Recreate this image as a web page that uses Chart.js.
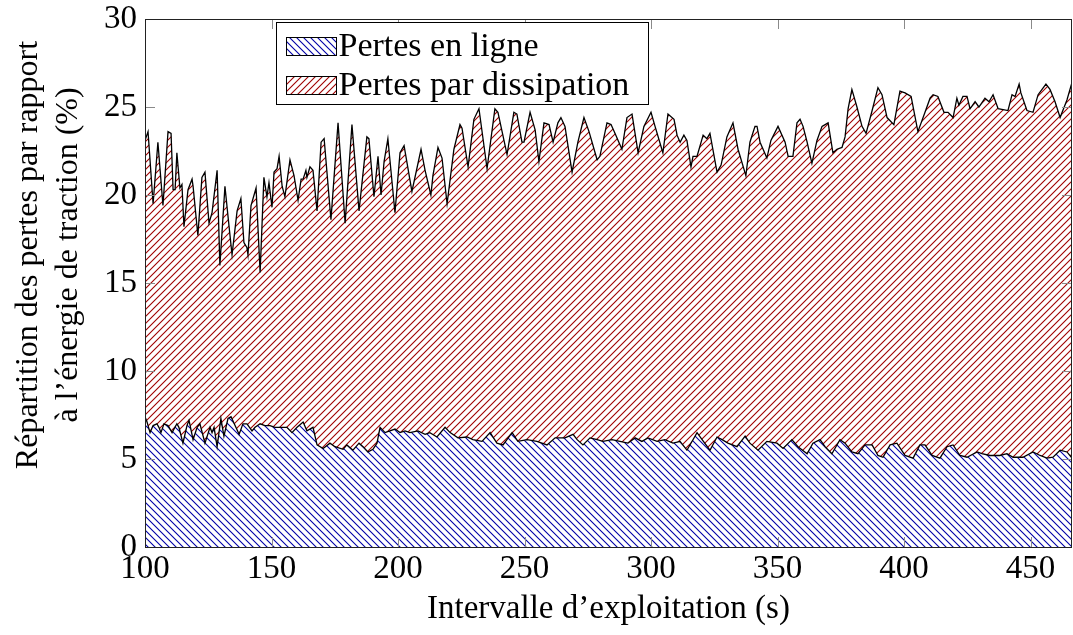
<!DOCTYPE html>
<html>
<head>
<meta charset="utf-8">
<script src="https://cdn.jsdelivr.net/npm/chart.js@4.4.0/dist/chart.umd.min.js"></script>
<style>
  html, body { margin: 0; padding: 0; background: #fff; }
  #wrap { width: 1073px; height: 635px; }
</style>
</head>
<body>
<div id="wrap"><canvas id="pertesChart"></canvas></div>
<script>
// valeurs (s, %)
var xLigne = [
  100.0,100.8,102.0,103.2,104.7,105.5,106.3,107.5,109.1,110.7,
  112.6,113.4,115.0,116.6,117.4,119.0,120.6,121.7,123.7,125.7,
  126.5,127.3,128.5,130.0,131.2,132.8,134.0,135.6,137.2,138.7,
  140.3,142.3,143.5,145.5,147.4,149.4,151.4,153.4,156.1,158.1,
  160.1,162.5,164.0,166.4,168.0,170.4,173.1,175.1,178.3,179.8,
  182.2,184.6,186.2,188.1,190.1,191.7,192.9,194.9,196.8,198.8,
  200.8,202.8,204.7,207.9,210.7,212.6,215.4,218.6,220.6,223.7,
  227.3,229.6,233.2,236.4,239.1,241.5,245.1,247.4,251.0,254.9,
  258.9,262.1,266.0,269.2,270.8,273.1,275.9,278.7,281.0,284.6,
  287.7,290.9,293.7,296.4,298.8,302.4,305.5,308.7,311.5,314.2,
  318.2,320.2,323.3,326.1,328.1,330.4,334.0,337.2,339.1,342.3,
  345.8,349.8,352.2,355.7,358.1,361.7,364.0,366.8,368.8,371.5,
  374.7,376.7,379.4,381.8,384.6,387.4,389.7,391.7,394.5,397.2,
  400.4,403.6,406.3,408.3,411.1,414.2,417.0,419.4,422.1,424.9,
  428.9,430.8,434.0,437.9,440.7,443.1,447.0,451.0,453.8,456.5,
  458.9,461.7,464.4,466.4
];
var pertesLigne = [
  7.4,7.1,6.5,6.9,7.0,6.8,6.5,7.0,6.9,6.5,
  7.0,6.8,5.9,6.9,7.2,6.1,6.8,7.0,5.9,6.8,
  6.5,6.8,5.7,7.3,6.3,7.3,7.4,6.9,6.4,7.0,
  7.0,6.6,6.8,7.0,6.9,6.9,6.8,6.8,6.8,6.5,
  6.8,7.1,6.6,6.8,5.8,5.6,5.9,5.7,5.55,5.8,
  5.5,5.9,5.7,5.4,5.55,5.9,6.8,6.5,6.6,6.7,
  6.5,6.6,6.5,6.6,6.4,6.5,6.25,6.8,6.5,6.2,
  6.25,6.1,6.0,6.5,5.9,5.8,6.5,6.0,6.1,6.0,
  5.8,6.2,6.2,6.4,6.1,5.8,6.2,6.1,6.0,6.1,
  6.0,5.9,6.2,6.0,6.2,6.0,6.1,5.9,6.0,5.5,
  6.5,6.1,5.5,6.25,6.1,5.9,5.7,6.3,5.9,5.5,
  6.0,5.9,5.6,6.1,5.7,5.3,5.9,6.1,5.7,5.3,
  6.1,5.9,5.4,5.3,5.8,5.8,5.2,5.1,5.8,5.9,
  5.2,5.05,5.8,5.8,5.2,5.05,5.7,5.8,5.2,5.1,
  5.4,5.3,5.2,5.2,5.3,5.1,5.1,5.4,5.2,5.05,
  5.1,5.5,5.4,5.05
];
// bord supérieur de la zone "dissipation" (ligne + dissipation)
var xTotal = [
  100.0,101.2,103.2,105.1,107.1,109.1,110.3,111.1,111.9,112.6,
  113.8,114.6,115.4,117.0,118.6,119.0,120.9,122.5,123.7,125.3,
  126.5,128.5,129.6,131.6,132.8,134.4,136.4,137.9,139.1,140.3,
  140.7,141.9,143.9,145.5,147.0,148.2,149.0,150.2,151.0,152.2,
  153.0,154.2,155.3,157.3,158.9,160.5,161.7,162.5,163.6,164.0,
  165.2,166.4,168.0,169.6,170.8,173.5,176.3,179.1,181.8,184.6,
  187.7,188.5,190.5,192.1,193.3,194.5,196.0,196.8,198.8,200.8,
  202.4,205.5,209.1,210.7,213.0,213.8,215.8,217.4,219.4,222.1,
  224.5,225.3,227.7,230.0,232.0,235.2,238.3,239.5,243.1,245.8,
  247.0,249.0,249.8,252.2,254.2,255.7,257.7,259.7,261.3,263.2,
  264.4,266.0,268.8,271.1,273.5,275.5,278.7,279.8,282.6,284.2,
  285.8,288.5,290.5,292.5,294.9,297.2,300.0,301.6,304.7,306.7,
  309.1,310.3,311.5,313.0,314.2,315.8,316.6,318.2,320.6,322.1,
  323.3,326.1,327.7,330.0,332.4,334.4,337.5,339.1,341.1,341.9,
  343.1,345.8,347.4,350.2,353.0,354.2,356.1,357.7,358.9,360.1,
  361.7,363.6,365.6,367.6,370.0,371.9,373.5,375.5,376.7,377.9,
  379.4,381.4,383.4,385.0,387.4,389.7,391.3,393.3,396.0,398.4,
  400.4,402.8,405.5,408.3,410.3,411.5,413.4,415.8,417.4,419.4,
  420.9,421.7,423.3,424.9,426.1,428.1,429.6,432.0,433.6,435.2,
  437.2,441.1,442.7,443.9,445.5,446.2,448.6,451.0,453.0,456.1,
  457.7,459.7,461.7,464.4,466.4
];
var pertesTotal = [
  23.1,23.6,19.5,23.0,19.4,23.6,23.5,20.3,20.3,22.4,
  20.4,20.6,18.2,20.3,20.9,20.5,17.7,21.0,21.3,18.4,
  19.0,21.4,16.0,20.5,18.8,16.6,19.1,19.8,17.3,17.0,
  16.6,19.4,20.4,15.6,21.0,19.9,20.7,19.3,21.3,21.5,
  22.2,20.5,19.9,22.0,21.1,19.7,20.9,20.9,21.4,21.0,
  21.6,21.4,19.1,23.0,23.2,18.6,24.1,18.4,24.0,19.1,
  23.3,23.2,19.9,22.2,20.0,21.9,23.2,22.0,19.0,22.4,
  22.8,20.2,22.6,21.4,20.0,21.1,22.7,22.1,19.5,22.6,
  24.0,23.8,21.6,24.3,24.9,21.5,24.9,24.7,22.3,24.7,
  24.6,23.0,23.0,24.7,23.7,21.9,24.1,24.0,23.0,24.1,
  24.4,23.9,21.3,23.0,24.4,23.6,22.0,22.2,24.1,24.0,
  23.5,22.6,24.4,24.6,22.4,23.9,24.7,23.9,22.4,24.6,
  24.3,23.4,23.0,23.4,23.1,21.6,22.2,22.2,23.4,23.2,
  23.5,21.3,21.7,23.3,24.1,22.6,21.1,23.0,23.9,23.9,
  23.0,22.1,23.1,23.9,23.0,22.2,22.2,24.1,24.3,23.9,
  23.0,21.8,23.1,23.9,24.1,22.4,22.6,22.7,23.3,24.9,
  26.0,25.0,23.9,23.5,24.8,26.1,25.7,24.4,24.0,25.9,
  25.8,25.6,23.6,24.7,25.5,25.7,25.6,24.7,24.7,24.4,
  25.5,25.1,25.6,25.6,24.9,25.3,25.0,25.5,25.3,25.7,
  24.9,24.8,25.7,25.6,26.3,25.8,24.8,24.7,25.7,26.3,
  26.0,25.3,24.4,25.4,26.4
];
var seriesNames = ['Pertes en ligne', 'Pertes par dissipation'];
var xTickValues = [100, 150, 200, 250, 300, 350, 400, 450];
var xRange = [100, 466.4];
var yRange = [0, 30];
var yTitle = ['Répartition des pertes par rapport', 'à l’énergie de traction (%)'];

var FONT = "'Liberation Serif', 'Times New Roman', serif";

// hachures façon pgfplots
function hatch(color, dir) {
  var s = 7;
  var c = document.createElement('canvas');
  c.width = s; c.height = s;
  var g = c.getContext('2d');
  g.strokeStyle = color;
  g.lineWidth = 1.1;
  g.beginPath();
  if (dir === 'nw') {
    g.moveTo(-1, -1); g.lineTo(s + 1, s + 1);
    g.moveTo(-1, s - 1); g.lineTo(1, s + 1);
    g.moveTo(s - 1, -1); g.lineTo(s + 1, 1);
  } else {
    g.moveTo(-1, s + 1); g.lineTo(s + 1, -1);
    g.moveTo(-1, 1); g.lineTo(1, -1);
    g.moveTo(s - 1, s + 1); g.lineTo(s + 1, s - 1);
  }
  g.stroke();
  return g.createPattern(c, 'repeat');
}
var bluePat = hatch('#0000a8', 'nw');
var redPat = hatch('#a00000', 'ne');

function pts(xs, ys) {
  return xs.map(function (x, i) { return { x: x, y: ys[i] }; });
}

// cadre + graduations vers l'intérieur + légende encadrée + titre y
var frame = {
  id: 'frame',
  afterDraw: function (chart) {
    var ctx = chart.ctx, a = chart.chartArea;
    var sx = chart.scales.x, sy = chart.scales.y;
    ctx.save();
    ctx.strokeStyle = '#8a8a8a';
    ctx.lineWidth = 1;
    ctx.beginPath();
    sx.ticks.forEach(function (t) {
      var px = Math.round(sx.getPixelForValue(t.value)) + 0.5;
      ctx.moveTo(px, a.bottom); ctx.lineTo(px, a.bottom - 10);
      ctx.moveTo(px, a.top); ctx.lineTo(px, a.top + 10);
    });
    sy.ticks.forEach(function (t) {
      var py = Math.round(sy.getPixelForValue(t.value)) + 0.5;
      ctx.moveTo(a.left, py); ctx.lineTo(a.left + 10, py);
      ctx.moveTo(a.right, py); ctx.lineTo(a.right - 10, py);
    });
    ctx.stroke();
    ctx.strokeStyle = '#222';
    ctx.strokeRect(Math.round(a.left) + 0.5, Math.round(a.top) + 0.5,
                   Math.round(a.right - a.left) - 1, Math.round(a.bottom - a.top));

    // légende
    var bx = Math.round(a.left) + 131.5, by = Math.round(a.top) + 3.5;
    ctx.fillStyle = '#fff';
    ctx.fillRect(bx, by, 372, 82);
    ctx.strokeStyle = '#000';
    ctx.strokeRect(bx, by, 372, 82);
    var pats = [bluePat, redPat];
    ctx.font = '34px ' + FONT;
    ctx.textBaseline = 'middle';
    for (var i = 0; i < 2; i++) {
      var yy = by + 15 + i * 39;
      ctx.fillStyle = '#fff';
      ctx.fillRect(bx + 10, yy, 50, 18);
      ctx.fillStyle = pats[i];
      ctx.fillRect(bx + 10, yy, 50, 18);
      ctx.strokeStyle = '#000';
      ctx.strokeRect(bx + 10, yy, 50, 18);
      ctx.fillStyle = '#000';
      ctx.fillText(seriesNames[i], bx + 62, yy + 10);
    }

    // titre de l'axe y (deux lignes)
    ctx.font = '32px ' + FONT;
    ctx.textAlign = 'center';
    ctx.textBaseline = 'middle';
    ctx.translate(0, 255);
    ctx.rotate(-Math.PI / 2);
    ctx.fillText(yTitle[0], 0, 29);
    ctx.fillText(yTitle[1], 0, 69);
    ctx.restore();
  }
};

var ctx = document.getElementById('pertesChart');
var pertesChart = new Chart(ctx, {
  type: 'line',
  data: {
    datasets: [{
      label: seriesNames[0],
      data: pts(xLigne, pertesLigne),
      borderColor: '#000',
      borderWidth: 1.3,
      backgroundColor: bluePat,
      fill: 'origin',
      pointRadius: 0,
      tension: 0
    }, {
      label: seriesNames[1],
      data: pts(xTotal, pertesTotal),
      borderColor: '#000',
      borderWidth: 1.3,
      backgroundColor: redPat,
      fill: '-1',
      pointRadius: 0,
      tension: 0
    }]
  },
  options: {
    responsive: true,
    maintainAspectRatio: false,
    animation: false,
    layout: { padding: { top: 19, right: 1, left: 0, bottom: 0 } },
    plugins: {
      legend: { display: false },
      tooltip: { enabled: false }
    },
    scales: {
      x: {
        type: 'linear',
        min: xRange[0],
        max: xRange[1],
        afterFit: function (s) { s.height = 88; s.paddingRight = 0; },
        afterBuildTicks: function (s) {
          s.ticks = xTickValues.map(function (v) { return { value: v }; });
        },
        grid: { display: false, drawTicks: false },
        border: { display: false },
        ticks: { color: '#000', padding: 3, font: { family: FONT, size: 33 } },
        title: {
          display: true,
          text: 'Intervalle d’exploitation (s)',
          color: '#000',
          font: { family: FONT, size: 33 },
          padding: { top: 0, bottom: 6 }
        }
      },
      y: {
        min: yRange[0],
        max: yRange[1],
        afterFit: function (s) { s.width = 145; s.paddingTop = 0; s.paddingBottom = 0; },
        grid: { display: false, drawTicks: false },
        border: { display: false },
        ticks: { stepSize: 5, color: '#000', padding: 8, font: { family: FONT, size: 33 } }
      }
    }
  },
  plugins: [frame]
});
</script>
</body>
</html>
